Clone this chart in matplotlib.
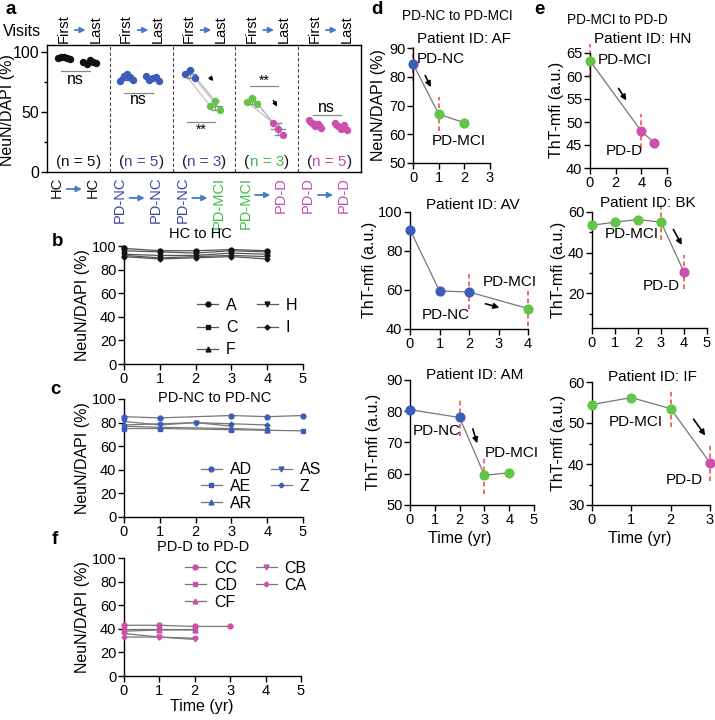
import matplotlib
matplotlib.use('Agg')
import matplotlib.pyplot as plt
import numpy as np
from matplotlib.transforms import blended_transform_factory
from matplotlib.offsetbox import TextArea, HPacker, AnnotationBbox

plt.rcParams['font.family'] = ['Liberation Sans', 'DejaVu Sans']

# ---------------- data ----------------
# panel a
a_first_labels = ['HC', 'PD-NC', 'PD-NC', 'PD-MCI', 'PD-D']
a_last_labels = ['HC', 'PD-NC', 'PD-MCI', 'PD-D', 'PD-D']
a_first_vals = [[95, 96, 96, 95, 94], [76, 80, 82, 79, 77], [82, 85, 78], [58, 62, 57], [43, 41, 38, 40, 37]]
a_last_vals = [[92, 90, 93, 92, 91], [80, 77, 78, 79, 76], [55, 59, 52], [41, 36, 31], [41, 38, 36, 39, 35]]
a_paired = [False, False, True, True, False]
a_sig = ['ns', 'ns', '**', '**', 'ns']

# panel b (HC to HC)
b_ids = ['A', 'C', 'F', 'H', 'I']
b_times = [[0, 1, 2, 3, 4]] * 5
b_vals = [[98, 96, 96, 97, 96],
          [96, 95, 94, 96, 95],
          [93, 92, 92, 94, 93],
          [92, 90, 91, 92, 91],
          [91, 89, 90, 91, 89]]

# panel c (PD-NC to PD-NC)
c_ids = ['AD', 'AE', 'AR', 'AS', 'Z']
c_times = [[0, 1, 3, 4, 5], [0, 1, 3, 4, 5], [0, 1, 3, 4], [0, 1, 2, 3], [0, 1, 2, 3, 4]]
c_vals = [[85, 84, 86, 85, 86],
          [75, 75, 74, 73.5, 73],
          [77, 76, 75, 74],
          [81, 78, 80, 77],
          [78, 79, 80, 79, 78]]

# panel f (PD-D to PD-D)
f_ids = ['CC', 'CD', 'CF', 'CB', 'CA']
f_times = [[0, 1, 2, 3], [0, 1, 2], [0, 1, 2], [0, 1, 2], [0, 1, 2]]
f_vals = [[43, 43, 42, 42],
          [40, 40, 40],
          [38, 39, 39],
          [36, 33, 31],
          [33, 33, 32]]

# panels d / e (individual patients)
AF_t, AF_v, AF_s = [0, 1, 2], [84.5, 67, 64], ['PD-NC', 'PD-MCI', 'PD-MCI']
AV_t, AV_v, AV_s = [0, 1, 2, 4], [91, 59.5, 59, 50.5], ['PD-NC', 'PD-NC', 'PD-NC', 'PD-MCI']
AM_t, AM_v, AM_s = [0, 2, 3, 4], [80.5, 78, 59.5, 60.3], ['PD-NC', 'PD-NC', 'PD-MCI', 'PD-MCI']
HN_t, HN_v, HN_s = [0, 4, 5], [63.3, 48, 45.5], ['PD-MCI', 'PD-D', 'PD-D']
BK_t, BK_v, BK_s = [0, 1, 2, 3, 4], [53.5, 55, 56.3, 55, 30.5], ['PD-MCI', 'PD-MCI', 'PD-MCI', 'PD-MCI', 'PD-D']
IF_t, IF_v, IF_s = [0, 1, 2, 3], [54.5, 56.2, 53.5, 40.3], ['PD-MCI', 'PD-MCI', 'PD-MCI', 'PD-D']

# ---------------- styles ----------------
stage_color = {'HC': '#111111', 'PD-NC': '#3b5cb8', 'PD-MCI': '#62c545', 'PD-D': '#cc4fae'}
text_color = {'HC': '#111111', 'PD-NC': '#3a45a8', 'PD-MCI': '#3fba45', 'PD-D': '#c24db2'}
RED = '#e8453c'
ARROW_BLUE = '#4a78c8'

W, H = 715, 720
fig = plt.figure(figsize=(W / 100, H / 100), dpi=100)


def add_ax(l, t, r, b):
    return fig.add_axes([l / W, 1 - b / H, (r - l) / W, (b - t) / H])


def ftext(x, y, s, **kw):
    kw.setdefault('ha', 'center')
    kw.setdefault('va', 'center')
    return fig.text(x / W, 1 - y / H, s, **kw)


def style(ax, box=False):
    for sp in ['top', 'right']:
        ax.spines[sp].set_visible(box)
    for sp in ax.spines.values():
        sp.set_linewidth(1.0)
    ax.tick_params(which='major', direction='out', length=4, width=1, labelsize=10.5, pad=1.5)
    ax.tick_params(which='minor', direction='out', length=2.5, width=1)


# ---------------- panel a ----------------
axa = add_ax(47, 45, 361, 172)
style(axa, box=True)
axa.set_xlim(0, 5)
axa.set_ylim(0, 105.8)
axa.set_xticks([])
axa.set_yticks([0, 50, 100])
axa.set_yticks([25, 75], minor=True)
axa.tick_params(axis='y', labelsize=11.5)
for g in range(1, 5):
    axa.axvline(g, color='#444444', lw=0.8, ls=(0, (3, 2)))

jit = {5: [-0.1, -0.05, 0.0, 0.05, 0.1], 3: [-0.08, 0.0, 0.08]}
sig_line = [84, 66, 42, 72, 47.5]
sig_text = [77, 60, 35, 76, 54]
for g in range(5):
    fv, lv = a_first_vals[g], a_last_vals[g]
    n = len(fv)
    fx = [g + 0.27 + j for j in jit[n]]
    lx = [g + 0.68 + j for j in jit[n]]
    fc = stage_color[a_first_labels[g]]
    lc = stage_color[a_last_labels[g]]
    if a_paired[g]:
        for i in range(n):
            axa.plot([fx[i], lx[i]], [fv[i], lv[i]], color='#b0b0b0', lw=0.7, zorder=1)
    for xs, vs, c, xc in ((fx, fv, fc, g + 0.27), (lx, lv, lc, g + 0.68)):
        m = np.mean(vs)
        s = np.std(vs, ddof=1)
        ec = '#8a8a8a' if a_paired[g] else c
        axa.errorbar(xc, m, yerr=s, color=ec, capsize=3, lw=1, capthick=1, zorder=2)
        axa.plot([xc - 0.11, xc + 0.11], [m, m], color=ec, lw=1, zorder=2)
        axa.plot(xs, vs, 'o', color=c, ms=4.3, zorder=3)
    axa.plot([g + 0.23, g + 0.68], [sig_line[g]] * 2, color='#888888', lw=0.9)
    axa.text(g + 0.455, sig_text[g], a_sig[g], ha='center', va='center',
             fontsize=11.5 if a_sig[g] == 'ns' else 10)
    nc = text_color[a_first_labels[g]]
    box = HPacker(children=[TextArea('(', textprops=dict(color='#111111', fontsize=11)),
                            TextArea('n = %d' % n, textprops=dict(color=nc, fontsize=11)),
                            TextArea(')', textprops=dict(color='#111111', fontsize=11))],
                  sep=0, pad=0, align='baseline')
    axa.add_artist(AnnotationBbox(box, (g + 0.5, 8), xycoords='data', frameon=False,
                                  box_alignment=(0.5, 0.5), pad=0))

# small black arrows in paired groups
axa.annotate('', xy=(2.68, 74), xytext=(2.58, 80),
             arrowprops=dict(arrowstyle='-|>', color='k', lw=1, mutation_scale=6))
axa.annotate('', xy=(3.69, 52.5), xytext=(3.58, 61.6),
             arrowprops=dict(arrowstyle='-|>', color='k', lw=1, mutation_scale=6))

trans = blended_transform_factory(axa.transData, fig.transFigure)
for g in range(5):
    axa.text(g + 0.26, 1 - 29 / H, 'First', rotation=90, ha='center', va='center',
             transform=trans, fontsize=10.5)
    axa.text(g + 0.77, 1 - 29 / H, 'Last', rotation=90, ha='center', va='center',
             transform=trans, fontsize=10.5)
    axa.annotate('', xy=(g + 0.66, 1 - 30 / H), xytext=(g + 0.40, 1 - 30 / H),
                 xycoords=trans, textcoords=trans, annotation_clip=False,
                 arrowprops=dict(arrowstyle='-|>', color=ARROW_BLUE, lw=1.3, mutation_scale=8))
    fl, ll = a_first_labels[g], a_last_labels[g]
    axa.text(g + 0.16, 1 - 177 / H, fl, rotation=90, ha='center', va='top',
             transform=trans, fontsize=10.5, color=text_color[fl])
    axa.text(g + 0.73, 1 - 177 / H, ll, rotation=90, ha='center', va='top',
             transform=trans, fontsize=10.5, color=text_color[ll])
    ya = 1 - (183 + 3 * min(len(fl), len(ll))) / H
    axa.annotate('', xy=(g + 0.60, ya), xytext=(g + 0.27, ya),
                 xycoords=trans, textcoords=trans, annotation_clip=False,
                 arrowprops=dict(arrowstyle='-|>', color=ARROW_BLUE, lw=1.3, mutation_scale=8))

ftext(22, 31, 'Visits', fontsize=11.5)
ftext(8, 110, 'NeuN/DAPI (%)', rotation=90, fontsize=11.5)

# ---------------- panels b, c, f ----------------
markers = ['o', 's', '^', 'v', 'D']
msizes = [3.5, 3.5, 3.5, 3.5, 2.5]


def group_panel(box, ids, times, vals, color, linecolor, leg_anchor, leg_space):
    ax = add_ax(*box)
    style(ax)
    for i, (pid, t, v) in enumerate(zip(ids, times, vals)):
        ax.plot(t, v, color=linecolor, lw=0.9, marker=markers[i], ms=msizes[i],
                mfc=color, mec=color, label=pid, clip_on=False, zorder=3)
    ax.set_xlim(0, 5)
    ax.set_ylim(0, 100)
    ax.set_xticks(range(6))
    ax.set_yticks(range(0, 101, 20))
    ax.legend(ncol=2, loc='upper left', bbox_to_anchor=leg_anchor, frameon=False,
              fontsize=11.5, handlelength=1.3, handletextpad=0.5, columnspacing=1.2,
              labelspacing=leg_space, borderpad=0, borderaxespad=0)
    return ax


group_panel((124, 246, 303, 364), b_ids, b_times, b_vals, '#111111', '#555555',
            (0.41, 0.56), 0.45)
group_panel((124, 399, 303, 517), c_ids, c_times, c_vals, stage_color['PD-NC'], '#777777',
            (0.43, 0.465), 0.12)
group_panel((124, 558, 301, 676), f_ids, f_times, f_vals, stage_color['PD-D'], '#777777',
            (0.345, 0.975), 0.12)

ftext(200, 234, 'HC to HC', fontsize=10.5)
ftext(215, 398, 'PD-NC to PD-NC', fontsize=10.5)
ftext(203, 547, 'PD-D to PD-D', fontsize=10.5)
for yc in (305, 458, 617):
    ftext(83, yc, 'NeuN/DAPI (%)', rotation=90, fontsize=11.5)
ftext(202, 707, 'Time (yr)', fontsize=11.5)

# ---------------- panels d, e ----------------


def stage_panel(box, t, v, st, xlim, ylim, xticks, yticks, yminor, labels, arrow):
    ax = add_ax(*box)
    style(ax)
    ax.set_xlim(*xlim)
    ax.set_ylim(*ylim)
    ax.set_xticks(xticks)
    ax.set_yticks(yticks)
    if yminor:
        ax.set_yticks(yminor, minor=True)
    ax.plot(t, v, color='#777777', lw=0.9, zorder=1)
    r = 0.15 * (ylim[1] - ylim[0])
    for i in range(len(t) - 1):
        if st[i] != st[i + 1]:
            for j in (i, i + 1):
                ax.plot([t[j], t[j]], [v[j] - r, v[j] + r], color=RED, lw=1.1,
                        ls=(0, (3, 2)), zorder=2, clip_on=False)
    for ti, vi, si in zip(t, v, st):
        ax.plot(ti, vi, 'o', color=stage_color[si], ms=6.3, zorder=3, clip_on=False)
    for (x, y, s) in labels:
        ax.text(x, y, s, ha='center', va='center', fontsize=11)
    x0, y0, x1, y1 = arrow
    ax.annotate('', xy=(x1, y1), xytext=(x0, y0), annotation_clip=False,
                arrowprops=dict(arrowstyle='-|>', color='k', lw=1.2, mutation_scale=8))
    return ax


stage_panel((413, 48, 490, 163), AF_t, AF_v, AF_s, (0, 3), (50, 90), range(4),
            range(50, 91, 10), None,
            [(1.09, 86.2, 'PD-NC'), (1.79, 57.7, 'PD-MCI')], (0.43, 81.3, 0.74, 75.5))
stage_panel((410, 212, 528, 329), AV_t, AV_v, AV_s, (0, 4), (40, 100), range(5),
            range(40, 101, 20), None,
            [(1.22, 47.2, 'PD-NC'), (3.39, 64.1, 'PD-MCI')], (2.47, 53.3, 3.12, 50.6))
stage_panel((410, 380, 534, 505), AM_t, AM_v, AM_s, (0, 5), (50, 90), range(6),
            range(50, 91, 10), None,
            [(1.09, 73.7, 'PD-NC'), (4.1, 66.6, 'PD-MCI')], (2.5, 75.2, 2.74, 68.9))
stage_panel((590, 53, 667, 168), HN_t, HN_v, HN_s, (0, 6), (40, 65), range(0, 7, 2),
            range(40, 66, 5), None,
            [(2.73, 63.5, 'PD-MCI'), (2.65, 43.7, 'PD-D')], (2.1, 57.8, 2.96, 54.2))
stage_panel((592, 212, 707, 328), BK_t, BK_v, BK_s, (0, 5), (3, 60), range(6),
            [20, 40, 60], [10, 30, 50],
            [(1.74, 49.2, 'PD-MCI'), (3.0, 23.5, 'PD-D')], (3.48, 52.6, 3.96, 42.6))
stage_panel((592, 382, 710, 505), IF_t, IF_v, IF_s, (0, 3), (30, 60), range(4),
            [30, 40, 50, 60], [35, 45, 55],
            [(1.12, 50.2, 'PD-MCI'), (2.34, 36.1, 'PD-D')], (2.54, 51.5, 2.92, 46.4))

ftext(457, 16, 'PD-NC to PD-MCI', fontsize=9.8)
ftext(617, 20, 'PD-MCI to PD-D', fontsize=9.8)
ftext(464, 39, 'Patient ID: AF', fontsize=11)
ftext(473, 205, 'Patient ID: AV', fontsize=11)
ftext(475, 375, 'Patient ID: AM', fontsize=11)
ftext(643, 39, 'Patient ID: HN', fontsize=11)
ftext(648, 203, 'Patient ID: BK', fontsize=11)
ftext(652, 377, 'Patient ID: IF', fontsize=11)
ftext(379, 105, 'NeuN/DAPI (%)', rotation=90, fontsize=11.5)
ftext(369, 270, 'ThT-mfi (a.u.)', rotation=90, fontsize=11.5)
ftext(373, 442, 'ThT-mfi (a.u.)', rotation=90, fontsize=11.5)
ftext(557, 110, 'ThT-mfi (a.u.)', rotation=90, fontsize=11.5)
ftext(558, 270, 'ThT-mfi (a.u.)', rotation=90, fontsize=11.5)
ftext(558, 443, 'ThT-mfi (a.u.)', rotation=90, fontsize=11.5)
ftext(460, 538, 'Time (yr)', fontsize=11.5)
ftext(640, 538, 'Time (yr)', fontsize=11.5)

# panel letters
for (x, y, s) in [(11, 10, 'a'), (58, 242, 'b'), (55, 390, 'c'), (55, 540, 'f'),
                  (377, 10, 'd'), (539, 10, 'e')]:
    ftext(x, y, s, fontsize=13.5, fontweight='bold')

fig.savefig('out.png', dpi=100)
